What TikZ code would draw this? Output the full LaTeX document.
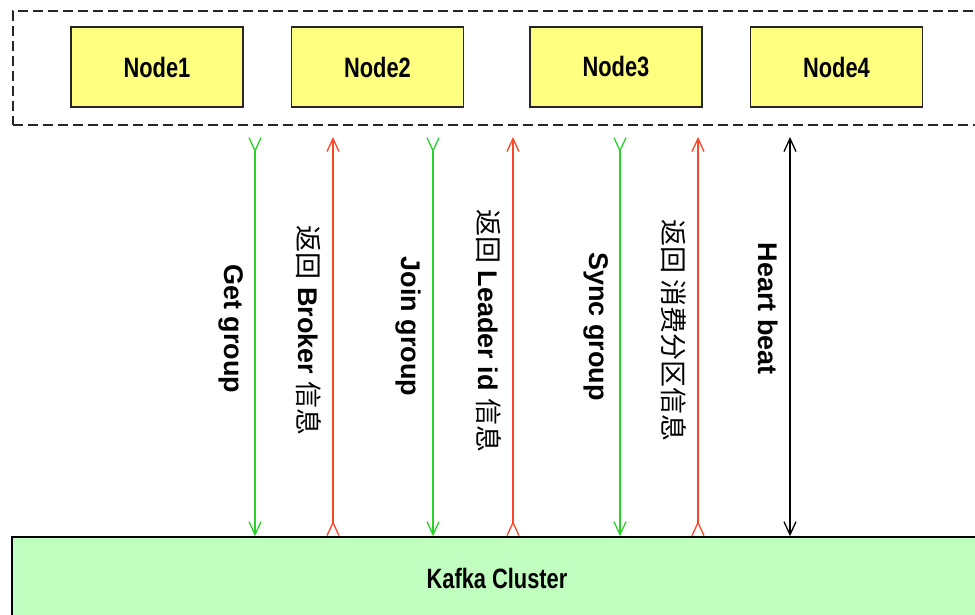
\documentclass[tikz,border=0pt]{standalone}
\usepackage{fontspec}
\setmainfont{Liberation Sans}
\newfontfamily\condfont[FakeStretch=0.78]{Liberation Sans}
\newfontfamily\cjk{Noto Sans CJK SC}
\newcommand{\zh}[1]{{\cjk\mdseries #1}}
\usetikzlibrary{arrows.meta,positioning}
\definecolor{nodeyellow}{RGB}{255,255,128}
\definecolor{clustergreen}{RGB}{192,255,192}
\definecolor{reqgreen}{RGB}{40,210,40}
\definecolor{resred}{RGB}{250,70,40}
\tikzset{
  consumer/.style={draw=black!85, line width=1.3pt, fill=nodeyellow,
    minimum width=172pt, minimum height=80pt,
    font=\condfont\bfseries\fontsize{28}{30}\selectfont},
  msg/.style={line width=1.3pt, >={Straight Barb[length=13pt,width=12pt]}},
  msglabel/.style={rotate=-90, anchor=north, inner sep=11pt, text=black,
    font=\bfseries\fontsize{27}{30}\selectfont},
}
\begin{document}
\begin{tikzpicture}[x=1pt,y=-1pt]
    \useasboundingbox (0,0) rectangle (975,614);
    \clip (0,0) rectangle (975,614);
    % Consumer group
    \node[draw=black!85, line width=1.5pt, dash pattern=on 10pt off 5pt, inner sep=0,
          minimum width=978pt, minimum height=114pt, anchor=north west] (group) at (12,10) {};
    \node[consumer] (n1) at (157,67) {Node1};
    \node[consumer] (n2) at (377.5,67) {Node2};
    \node[consumer] (n3) at (616,67) {Node3};
    \node[consumer] (n4) at (836.5,67) {Node4};
    % Cluster
    \node[draw, line width=1.5pt, fill=clustergreen, minimum width=970pt, minimum height=82pt,
          font=\condfont\bfseries\fontsize{28}{30}\selectfont] (kafka) at (497,578) {Kafka Cluster};
    % Start points of the requests
    \coordinate (get) at (255,137);
    \coordinate (broker) at (333,137);
    \coordinate (join) at (433,137);
    \coordinate (leader) at (513,137);
    \coordinate (sync) at (620,137);
    \coordinate (assign) at (698,137);
    \coordinate (beat) at (790,137);
    % Requests and answers
    \draw[msg, reqgreen, >->] (get) -- node[msglabel, pos=0.48] {Get group} (get |- kafka.north);
    \draw[msg, resred, <-<] (broker) -- node[msglabel, pos=0.485] {\zh{返回} Broker \zh{信息}} (broker |- kafka.north);
    \draw[msg, reqgreen, >->] (join) -- node[msglabel, pos=0.475] {Join group} (join |- kafka.north);
    \draw[msg, resred, <-<] (leader) -- node[msglabel, pos=0.485] {\zh{返回} Leader id \zh{信息}} (leader |- kafka.north);
    \draw[msg, reqgreen, >->] (sync) -- node[msglabel, pos=0.475] {Sync group} (sync |- kafka.north);
    \draw[msg, resred, <-<] (assign) -- node[msglabel, pos=0.485] {\zh{返回\ 消费分区信息}} (assign |- kafka.north);
    \draw[msg, black, <->] (beat) -- node[msglabel, pos=0.43] {Heart beat} (beat |- kafka.north);
\end{tikzpicture}
\end{document}
